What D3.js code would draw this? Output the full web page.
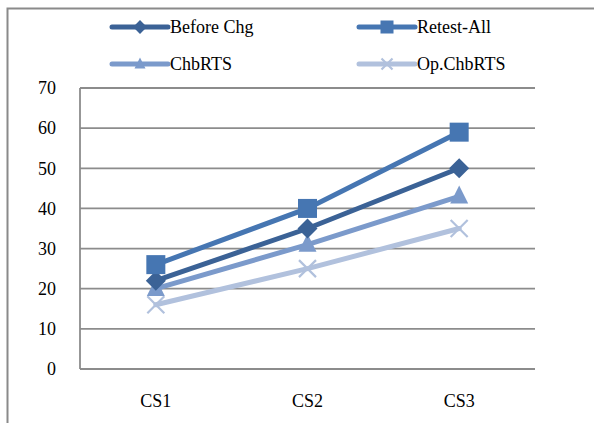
<!DOCTYPE html>
<html><head><meta charset="utf-8">
<script src="https://cdn.jsdelivr.net/npm/d3@7"></script>
<style>body{margin:0;background:#fff}svg{display:block}</style>
</head><body>
<script>
const categories = ["CS1","CS2","CS3"];
const seriesNames = ["Before Chg","Retest-All","ChbRTS","Op.ChbRTS"];
const beforeChg = [22, 35, 50];
const retestAll = [26, 40, 59];
const chbRTS = [20, 31, 43];
const opChbRTS = [16, 25, 35];
const yTicks = [0,10,20,30,40,50,60,70];

const colors = ["#3b6296","#4676b2","#7b9acb","#b1c1dd"];
const symbols = ["diamond","square","triangle","x"];
const seriesData = [beforeChg, retestAll, chbRTS, opChbRTS];

const W = 594, H = 423;
const svg = d3.select("body").append("svg").attr("width", W).attr("height", H);
const font = '"Liberation Serif","Times New Roman",serif';

// outer frame
svg.append("path").attr("d", `M7.5,${H} V8.5 H${W}`).attr("fill","none").attr("stroke","#8a8a8a").attr("stroke-width",2);

const plot = {left:80, right:535, top:88, bottom:369};
const x = d3.scaleBand().domain(categories).range([plot.left, plot.right]);
const y = d3.scaleLinear().domain([0,70]).range([plot.bottom, plot.top]);

// gridlines
svg.append("g").selectAll("line").data(yTicks).join("line")
  .attr("x1", plot.left).attr("x2", plot.right)
  .attr("y1", d=>y(d)).attr("y2", d=>y(d))
  .attr("stroke","#8c8c8c").attr("stroke-width",1.8);
svg.append("line").attr("x1",plot.left).attr("x2",plot.left).attr("y1",plot.top).attr("y2",plot.bottom)
  .attr("stroke","#8c8c8c").attr("stroke-width",1.8);

// y axis labels
const yAxis = d3.axisLeft(y).tickValues(yTicks).tickSize(0).tickPadding(24);
const ya = svg.append("g").attr("transform",`translate(${plot.left},0)`).call(yAxis);
ya.select(".domain").remove();
ya.selectAll("text").style("font-family",font).style("font-size","18px").attr("fill","#000");

// x axis labels
const xAxis = d3.axisBottom(x).tickSize(0).tickPadding(25);
const xa = svg.append("g").attr("transform",`translate(0,${plot.bottom})`).call(xAxis);
xa.select(".domain").remove();
xa.selectAll("text").style("font-family",font).style("font-size","18px").attr("fill","#000");

function marker(g, type, cx, cy, color, s) {
  if (type === "diamond") {
    g.append("path").attr("d", d3.symbol(d3.symbolDiamond2, s*s*1.0)())
      .attr("transform",`translate(${cx},${cy})`).attr("fill",color);
  } else if (type === "square") {
    g.append("rect").attr("x",cx-s/2).attr("y",cy-s/2).attr("width",s).attr("height",s).attr("fill",color);
  } else if (type === "triangle") {
    g.append("path").attr("d",`M${cx},${cy-s*0.6} L${cx+s/2},${cy+s*0.4} L${cx-s/2},${cy+s*0.4} Z`).attr("fill",color);
  } else {
    const h = s/2;
    g.append("path").attr("d",`M${cx-h},${cy-h} L${cx+h},${cy+h} M${cx-h},${cy+h} L${cx+h},${cy-h}`)
      .attr("stroke",color).attr("stroke-width",2.2).attr("fill","none");
  }
}
const msize = [16, 19, 18, 17];

const line = d3.line().x((d,i)=>x(categories[i])+x.bandwidth()/2).y(d=>y(d));
const order = [3,2,0,1];
order.forEach(si => {
  svg.append("path").datum(seriesData[si]).attr("d", line)
    .attr("fill","none").attr("stroke",colors[si]).attr("stroke-width",5).attr("stroke-linecap","round");
});
order.forEach(si => {
  const g = svg.append("g");
  seriesData[si].forEach((v,i)=> marker(g, symbols[si], x(categories[i])+x.bandwidth()/2, y(v), colors[si], msize[si]));
});

// legend
const legendPos = [[112,27],[359,27],[112,64],[359,64]];
seriesNames.forEach((name, si) => {
  const [lx, ly] = legendPos[si];
  const g = svg.append("g");
  g.append("line").attr("x1",lx).attr("x2",lx+56).attr("y1",ly).attr("y2",ly)
    .attr("stroke",colors[si]).attr("stroke-width",5).attr("stroke-linecap","round");
  marker(g, symbols[si], lx+28, ly, colors[si], si===1?13:11);
  g.append("text").attr("x",lx+58).attr("y",ly+6).text(name)
    .style("font-family",font).style("font-size","18px").attr("fill","#000");
});
</script>
</body></html>
